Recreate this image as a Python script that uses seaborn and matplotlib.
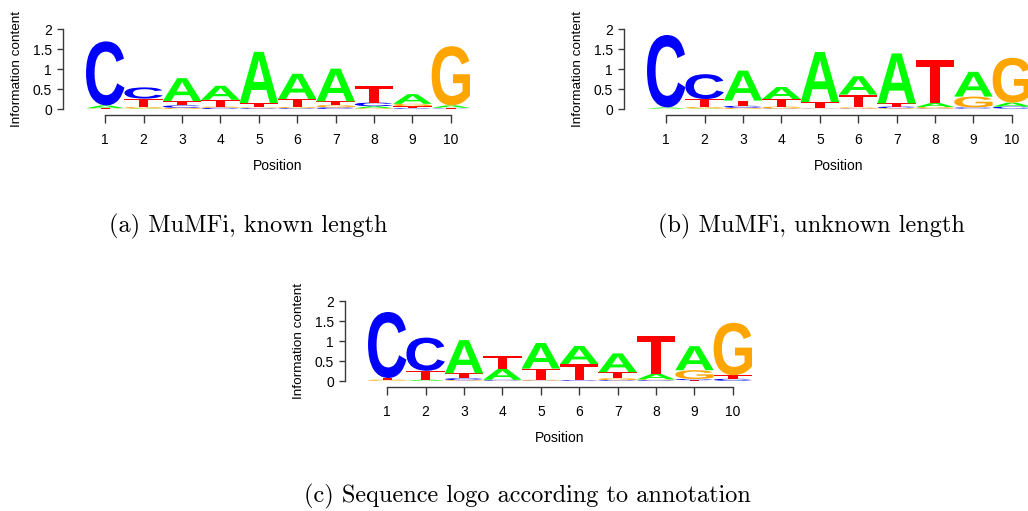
import matplotlib
matplotlib.use("Agg")
import matplotlib.pyplot as plt
import seaborn as sns
import pandas as pd
from matplotlib.textpath import TextPath
from matplotlib.patches import PathPatch
from matplotlib.font_manager import FontProperties
from matplotlib.transforms import Affine2D, blended_transform_factory

# ---- data: information content (bits) per base and position ----
positions = [1, 2, 3, 4, 5, 6, 7, 8, 9, 10]
bases = ["A", "C", "G", "T"]
base_colors = ["#00FF00", "#0000FF", "#FFA500", "#FF0000"]
y_ticks = [0, 0.5, 1, 1.5, 2]
y_tick_labels = ["0", "0.5", "1", "1.5", "2"]

known_A = [0.07, 0.01, 0.57, 0.35, 1.28, 0.63, 0.82, 0.05, 0.24, 0.06]
known_C = [1.60, 0.28, 0.06, 0.03, 0.02, 0.02, 0.04, 0.09, 0.02, 0.01]
known_G = [0.01, 0.04, 0.03, 0.03, 0.02, 0.03, 0.06, 0.02, 0.06, 1.48]
known_T = [0.01, 0.21, 0.11, 0.17, 0.11, 0.20, 0.09, 0.42, 0.05, 0.02]

unknown_A = [0.03, 0.01, 0.75, 0.30, 1.25, 0.46, 1.25, 0.10, 0.62, 0.10]
unknown_C = [1.81, 0.62, 0.05, 0.01, 0.005, 0.01, 0.04, 0.01, 0.03, 0.05]
unknown_G = [0.005, 0.04, 0.03, 0.05, 0.01, 0.03, 0.02, 0.04, 0.27, 1.12]
unknown_T = [0.005, 0.20, 0.13, 0.19, 0.16, 0.32, 0.08, 1.07, 0.01, 0.01]

annot_A = [0.005, 0.03, 0.83, 0.27, 0.64, 0.45, 0.47, 0.14, 0.60, 0.005]
annot_C = [1.65, 0.83, 0.05, 0.02, 0.01, 0.02, 0.02, 0.02, 0.03, 0.05]
annot_G = [0.03, 0.005, 0.02, 0.01, 0.02, 0.005, 0.05, 0.02, 0.22, 1.31]
annot_T = [0.04, 0.22, 0.12, 0.32, 0.28, 0.40, 0.15, 0.95, 0.02, 0.09]

captions = [
    "(a) MuMFi, known length",
    "(b) MuMFi, unknown length",
    "(c) Sequence logo according to annotation",
]


def to_long(name, a, c, g, t):
    rows = []
    for base, vals in zip(bases, [a, c, g, t]):
        for p, v in zip(positions, vals):
            rows.append({"logo": name, "position": p, "base": base, "bits": v})
    return rows


logos = pd.DataFrame(
    to_long("known", known_A, known_C, known_G, known_T)
    + to_long("unknown", unknown_A, unknown_C, unknown_G, unknown_T)
    + to_long("annot", annot_A, annot_C, annot_G, annot_T)
)

# ---- style ----
sns.set_style("white")
palette = dict(zip(bases, sns.color_palette(base_colors)))
plt.rcParams["font.family"] = ["Liberation Sans", "DejaVu Sans"]
plt.rcParams["text.color"] = "black"
axis_color = "#3a3a3a"

glyph_font = FontProperties(family="Liberation Sans", weight="bold")
glyph_paths = {b: TextPath((0, 0), b, size=1, prop=glyph_font) for b in bases}


def draw_letter(ax, base, x, y0, h):
    path = glyph_paths[base]
    ext = path.get_extents()
    tr = (Affine2D()
          .translate(-ext.x0, -ext.y0)
          .scale(1.0 / ext.width, h / ext.height)
          .translate(x - 0.5, y0))
    ax.add_patch(PathPatch(tr.transform_path(path), facecolor=palette[base],
                           edgecolor="none", lw=0))


def draw_logo(ax, df):
    for p, grp in df.groupby("position"):
        y = 0.0
        for _, row in grp.sort_values("bits", kind="stable").iterrows():
            if row["bits"] > 0:
                draw_letter(ax, row["base"], p, y, row["bits"])
                y += row["bits"]

    ax.set_xlim(-0.1, 10.5)
    ax.set_ylim(0, 2)
    for s in ["top", "right"]:
        ax.spines[s].set_visible(False)
    ax.spines["left"].set_bounds(0, 2)
    ax.spines["bottom"].set_bounds(1, 10)
    ax.spines["bottom"].set_position(("outward", 4))
    for s in ["left", "bottom"]:
        ax.spines[s].set_color(axis_color)
        ax.spines[s].set_linewidth(1.0)

    ax.set_xticks(positions)
    ax.set_xticklabels([str(p) for p in positions])
    ax.set_yticks(y_ticks)
    ax.set_yticklabels(y_tick_labels)
    ax.tick_params(axis="x", bottom=True, direction="out", length=5.5,
                   width=1.0, color=axis_color, pad=8, labelsize=10,
                   labelcolor="black")
    ax.tick_params(axis="y", left=True, direction="out", length=4.5,
                   width=1.0, color=axis_color, pad=3.5, labelsize=10,
                   labelcolor="black")
    ax.set_facecolor("none")
    ax.grid(False)

    tr = blended_transform_factory(ax.transData, ax.transAxes)
    ax.text(5.5, -0.71, "Position", transform=tr, ha="center", va="center",
            fontsize=10)
    ax.text(-0.113, 0.5, "Information content", transform=ax.transAxes,
            rotation=90, ha="center", va="center", fontsize=9.7)


W, H = 1028, 511
fig = plt.figure(figsize=(W / 100, H / 100), dpi=100)
fig.patch.set_facecolor("white")

# axes rectangles in pixels: left, y of 0 bits, y of 2 bits
ax_width_px = 10.6 * 38.4
layout = {
    "known": (63, 109, 29),
    "unknown": (624, 109, 29),
    "annot": (345, 381, 301),
}
for name, (left, y0, y2) in layout.items():
    ax = fig.add_axes([left / W, (H - y0) / H, ax_width_px / W, (y0 - y2) / H])
    draw_logo(ax, logos[logos["logo"] == name])

cap_font = dict(family="cmr10", fontsize=17.5, ha="center", va="center",
                color="black")
fig.text(248.5 / W, 1 - 226 / H, captions[0], **cap_font)
fig.text(811 / W, 1 - 226 / H, captions[1], **cap_font)
fig.text(527 / W, 1 - 496 / H, captions[2], **cap_font)

fig.savefig("out.png", dpi=100, facecolor="white")
